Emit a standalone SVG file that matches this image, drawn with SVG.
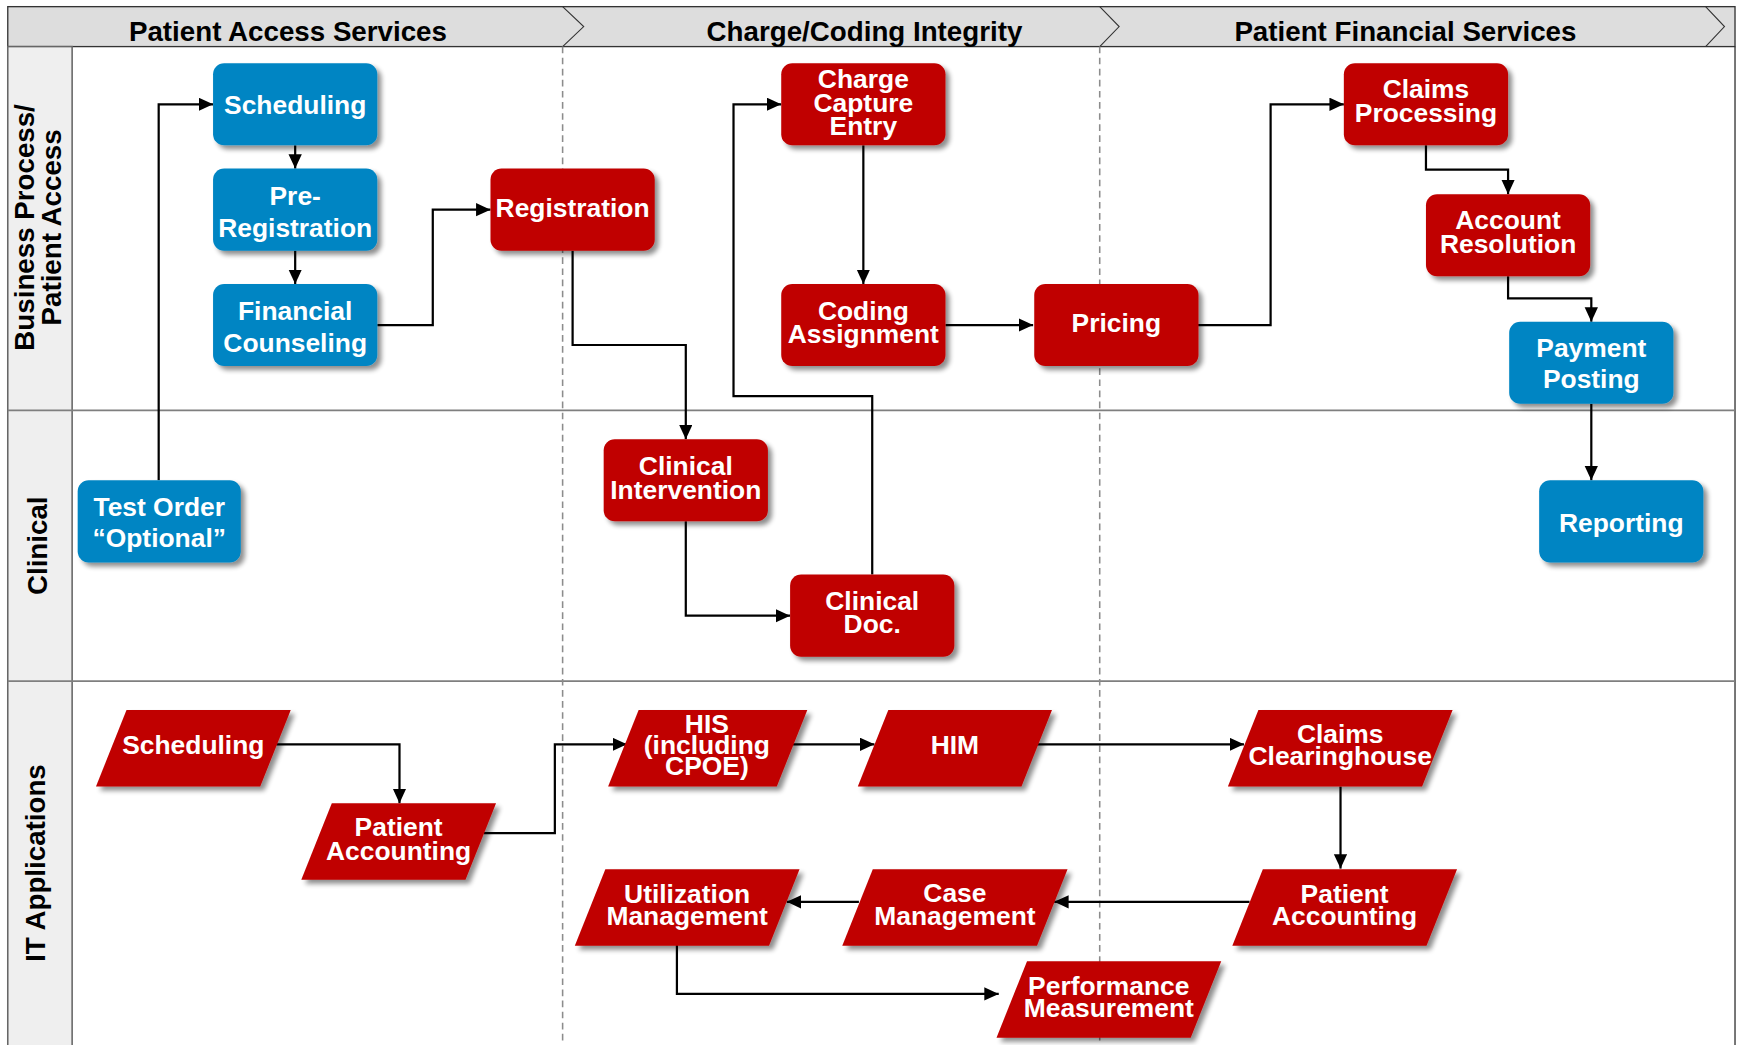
<svg xmlns="http://www.w3.org/2000/svg" width="1740" height="1045" viewBox="0 0 1740 1045">
<style>
.hd{font-family:"Liberation Sans",Arial,Helvetica,sans-serif;font-weight:bold;font-size:25px;fill:#000;text-anchor:middle}
.nt{font-family:"Liberation Sans",Arial,Helvetica,sans-serif;font-weight:bold;font-size:23.8px;fill:#fff;text-anchor:middle}
.red{fill:#C00000}
.blue{fill:#0085C3}
.cn{fill:none;stroke:#000;stroke-width:2;marker-end:url(#ah)}
.lane{stroke:#7F7F7F;stroke-width:1.6;fill:none}
.dash{stroke:#8C8C8C;stroke-width:1.4;stroke-dasharray:6 4;fill:none}
.chev{stroke:#333;stroke-width:1;fill:none}
</style>
<defs>
<marker id="ah" markerUnits="userSpaceOnUse" markerWidth="14" markerHeight="13" refX="13" refY="6" orient="auto">
<path d="M0,0 L13,6 L0,12 Z" fill="#000"/>
</marker>
<filter id="sh" x="-10%" y="-10%" width="130%" height="140%">
<feGaussianBlur in="SourceAlpha" stdDeviation="2.2"/>
<feOffset dx="4" dy="4" result="o"/>
<feComponentTransfer><feFuncA type="linear" slope="0.45"/></feComponentTransfer>
<feMerge><feMergeNode/><feMergeNode in="SourceGraphic"/></feMerge>
</filter>
</defs>
<rect x="0" y="0" width="1740" height="1045" fill="#fff"/>
<g transform="scale(1.1097 1.1093)">
<g id="lanes">
<rect x="7" y="6" width="1556.5" height="36" fill="#DDDDDD" stroke="#333" stroke-width="1.2"/>
<rect x="7" y="42" width="58" height="910" fill="#EFEFEF" stroke="#666" stroke-width="1.4"/>
<line x1="1563.5" y1="42" x2="1563.5" y2="945" stroke="#333" stroke-width="1.2"/>
<polyline class="chev" points="507,6 526,24 507,42"/>
<polyline class="chev" points="991,6 1008.5,24 991,42"/>
<polyline class="chev" points="1537,6 1554,24 1537,42"/>
<line class="lane" x1="7" y1="370" x2="1563.5" y2="370"/>
<line class="lane" x1="7" y1="614" x2="1563.5" y2="614"/>
<line class="dash" x1="507" y1="42" x2="507" y2="945"/>
<line class="dash" x1="991" y1="42" x2="991" y2="945"/>
<text class="hd" x="259.5" y="36.7">Patient Access Services</text>
<text class="hd" x="779" y="36.7">Charge/Coding Integrity</text>
<text class="hd" x="1266.5" y="36.7">Patient Financial Services</text>
<text class="hd" transform="translate(31,205) rotate(-90)">Business Process/</text>
<text class="hd" transform="translate(55,205) rotate(-90)">Patient Access</text>
<text class="hd" transform="translate(42,492) rotate(-90)">Clinical</text>
<text class="hd" transform="translate(40.5,778) rotate(-90)">IT Applications</text>
</g>
<g id="connectors">
<path class="cn" d="M143,433 V94 H192"/>
<path class="cn" d="M266,131 V152"/>
<path class="cn" d="M266,226 V256"/>
<path class="cn" d="M340,293 H390 V189 H442"/>
<path class="cn" d="M516,226 V311 H618 V396"/>
<path class="cn" d="M618,470 V555 H712"/>
<path class="cn" d="M786,518 V357 H661 V94 H704"/>
<path class="cn" d="M778,131 V256"/>
<path class="cn" d="M852,293 H931"/>
<path class="cn" d="M1079,293 H1145 V94 H1211"/>
<path class="cn" d="M1285,131 V153 H1359 V175"/>
<path class="cn" d="M1359,249 V269 H1434 V290"/>
<path class="cn" d="M1434,364 V433"/>
<path class="cn" d="M249,671 H360 V724"/>
<path class="cn" d="M436,751 H500 V671 H565"/>
<path class="cn" d="M714,671 H788"/>
<path class="cn" d="M934,671 H1121"/>
<path class="cn" d="M1208,709 V783"/>
<path class="cn" d="M1126,813 H950"/>
<path class="cn" d="M774,813 H709"/>
<path class="cn" d="M610,852 V896 H900"/>
</g>
<g id="n-scheduling"><rect class="blue" filter="url(#sh)" x="192" y="57" width="148" height="74" rx="10"/><text class="nt" x="266" y="102.6">Scheduling</text></g>
<g id="n-preregistration"><rect class="blue" filter="url(#sh)" x="192" y="152" width="148" height="74" rx="10"/><text class="nt" x="266" y="184.6">Pre-</text><text class="nt" x="266" y="213.6">Registration</text></g>
<g id="n-financial"><rect class="blue" filter="url(#sh)" x="192" y="256" width="148" height="74" rx="10"/><text class="nt" x="266" y="288.6">Financial</text><text class="nt" x="266" y="317.6">Counseling</text></g>
<g id="n-registration"><rect class="red" filter="url(#sh)" x="442" y="152" width="148" height="74" rx="10"/><text class="nt" x="516" y="195.6">Registration</text></g>
<g id="n-chargecapture"><rect class="red" filter="url(#sh)" x="704" y="57" width="148" height="74" rx="10"/><text class="nt" x="778" y="79.5">Charge</text><text class="nt" x="778" y="100.8">Capture</text><text class="nt" x="778" y="122">Entry</text></g>
<g id="n-coding"><rect class="red" filter="url(#sh)" x="704" y="256" width="148" height="74" rx="10"/><text class="nt" x="778" y="288.5">Coding</text><text class="nt" x="778" y="309.5">Assignment</text></g>
<g id="n-pricing"><rect class="red" filter="url(#sh)" x="932" y="256" width="148" height="74" rx="10"/><text class="nt" x="1006" y="299">Pricing</text></g>
<g id="n-claimsprocessing"><rect class="red" filter="url(#sh)" x="1211" y="57" width="148" height="74" rx="10"/><text class="nt" x="1285" y="88">Claims</text><text class="nt" x="1285" y="109.7">Processing</text></g>
<g id="n-accountresolution"><rect class="red" filter="url(#sh)" x="1285" y="175" width="148" height="74" rx="10"/><text class="nt" x="1359" y="206.7">Account</text><text class="nt" x="1359" y="228.4">Resolution</text></g>
<g id="n-paymentposting"><rect class="blue" filter="url(#sh)" x="1360" y="290" width="148" height="74" rx="10"/><text class="nt" x="1434" y="321.5">Payment</text><text class="nt" x="1434" y="350">Posting</text></g>
<g id="n-reporting"><rect class="blue" filter="url(#sh)" x="1387" y="433" width="148" height="74" rx="10"/><text class="nt" x="1461" y="480">Reporting</text></g>
<g id="n-testorder"><rect class="blue" filter="url(#sh)" x="70" y="433" width="147" height="74" rx="10"/><text class="nt" x="143.5" y="465">Test Order</text><text class="nt" x="143.5" y="493.5">“Optional”</text></g>
<g id="n-clinicalintervention"><rect class="red" filter="url(#sh)" x="544" y="396" width="148" height="74" rx="10"/><text class="nt" x="618" y="428.2">Clinical</text><text class="nt" x="618" y="450">Intervention</text></g>
<g id="n-clinicaldoc"><rect class="red" filter="url(#sh)" x="712" y="518" width="148" height="74" rx="10"/><text class="nt" x="786" y="550">Clinical</text><text class="nt" x="786" y="571">Doc.</text></g>
<g id="it-scheduling"><polygon class="red" filter="url(#sh)" points="86.5,709 114,640 262,640 234.5,709"/><text class="nt" x="174.2" y="679.7">Scheduling</text></g>
<g id="it-patientaccounting1"><polygon class="red" filter="url(#sh)" points="271.5,793 299,724 447,724 419.5,793"/><text class="nt" x="359.2" y="753.3">Patient</text><text class="nt" x="359.2" y="775.3">Accounting</text></g>
<g id="it-his"><polygon class="red" filter="url(#sh)" points="548,709 575.5,640 727.5,640 700,709"/><text class="nt" x="637" y="661">HIS</text><text class="nt" x="637" y="680">(including</text><text class="nt" x="637" y="699">CPOE)</text></g>
<g id="it-him"><polygon class="red" filter="url(#sh)" points="773,709 800.5,640 948,640 920.5,709"/><text class="nt" x="860.5" y="679.7">HIM</text></g>
<g id="it-claimsclearinghouse"><polygon class="red" filter="url(#sh)" points="1106.5,709 1134,640 1309,640 1281.5,709"/><text class="nt" x="1207.7" y="669.5">Claims</text><text class="nt" x="1207.7" y="689.6">Clearinghouse</text></g>
<g id="it-patientaccounting2"><polygon class="red" filter="url(#sh)" points="1110.5,852.5 1138,783.5 1313,783.5 1285.5,852.5"/><text class="nt" x="1211.7" y="813.7">Patient</text><text class="nt" x="1211.7" y="834">Accounting</text></g>
<g id="it-casemanagement"><polygon class="red" filter="url(#sh)" points="759,852.5 786.5,783.5 962,783.5 934.5,852.5"/><text class="nt" x="860.5" y="813.5">Case</text><text class="nt" x="860.5" y="834">Management</text></g>
<g id="it-utilization"><polygon class="red" filter="url(#sh)" points="518,852.5 545.5,783.5 720.5,783.5 693,852.5"/><text class="nt" x="619.2" y="813.7">Utilization</text><text class="nt" x="619.2" y="834">Management</text></g>
<g id="it-performance"><polygon class="red" filter="url(#sh)" points="898,935.5 925.5,866.5 1100.5,866.5 1073,935.5"/><text class="nt" x="999.2" y="897">Performance</text><text class="nt" x="999.2" y="916.5">Measurement</text></g>
</g>
</svg>
